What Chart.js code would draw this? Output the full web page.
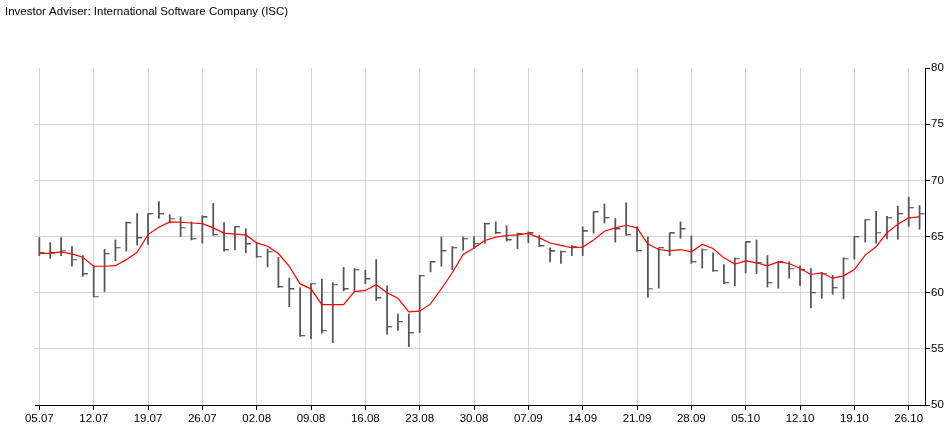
<!DOCTYPE html>
<html>
<head>
<meta charset="utf-8">
<script src="https://cdn.jsdelivr.net/npm/chart.js@4/dist/chart.umd.min.js"></script>
<style>
html,body{margin:0;padding:0;background:#fff;}
#wrap{width:951px;height:430px;position:relative;}
</style>
</head>
<body>
<div id="wrap"><canvas id="c" width="951" height="430"></canvas></div>
<script>
// Tick labels on the time axis (one every 5 trading days)
const tickLabels = ['05.07','12.07','19.07','26.07','02.08','09.08','16.08','23.08','30.08','07.09','14.09','21.09','28.09','05.10','12.10','19.10','26.10'];

// Daily high / low / close values (82 trading days)
const high = [64.9,64.45,64.9,64.1,63.3,62.4,63.85,64.7,66.3,67.05,
  67.05,68.1,66.95,66.75,66.3,66.85,67.95,66.25,65.9,65.7,
  64.45,63.9,63.15,61.3,60.45,60.8,61.2,60.9,62.25,62.15,
  62.0,62.95,60.6,58.1,58.1,61.55,62.75,64.95,64.1,64.95,
  65.0,66.2,66.3,65.95,65.3,65.4,65.1,64.0,63.7,64.2,
  65.85,67.2,67.9,66.6,68.0,65.85,64.95,64.0,65.3,66.3,
  65.05,63.9,63.55,62.5,63.1,64.5,64.7,63.3,62.75,62.75,
  62.4,62.15,61.8,61.55,63.1,65.0,66.5,67.25,66.8,67.7,
  68.5,67.75];
const low = [63.3,63.05,63.3,62.35,61.45,59.65,60.1,62.85,63.7,64.25,
  64.3,66.6,66.2,65.0,64.7,64.4,65.1,63.7,63.8,63.55,
  63.15,62.3,60.45,58.75,56.1,55.9,56.4,55.55,60.15,60.1,
  60.8,59.3,56.3,56.65,55.2,56.45,61.85,62.35,62.05,63.77,
  63.95,64.4,65.25,64.6,63.9,64.45,64.1,62.73,62.6,63.3,
  63.3,65.3,66.2,64.5,65.1,63.7,59.6,60.4,63.3,64.85,
  62.6,62.2,61.9,60.8,60.6,61.75,61.7,60.5,60.4,61.3,
  60.65,58.65,59.5,59.85,59.45,62.98,64.5,64.4,64.78,64.75,
  65.9,65.65];
const close = [63.55,63.5,63.75,62.95,61.65,59.65,63.45,64.0,66.2,64.85,
  67.0,67.0,66.6,65.8,64.8,66.7,65.15,63.8,65.85,64.3,
  63.2,63.65,60.5,60.3,56.15,60.8,56.6,60.7,60.3,62.05,
  61.2,59.5,56.95,57.4,56.4,61.5,62.7,63.7,64.0,64.8,
  64.35,66.1,65.3,64.67,65.22,65.27,64.14,63.67,63.64,64.08,
  65.45,67.15,66.65,65.65,65.15,63.72,60.37,63.99,65.27,65.65,
  62.74,63.84,61.94,60.88,63.04,64.47,62.66,60.88,62.7,62.15,
  62.0,59.99,61.7,60.43,63.03,64.95,66.5,65.35,66.67,67.0,
  67.55,67.03];
// Moving average (red line)
const ma = [63.5,63.5,63.63,63.45,63.15,62.35,62.35,62.4,62.94,63.6,
  65.17,65.82,66.3,66.27,66.2,66.15,65.77,65.3,65.22,65.14,
  64.43,64.13,63.48,62.35,60.78,60.34,58.94,58.94,58.94,60.1,
  60.2,60.7,60.0,59.5,58.3,58.35,59.0,60.35,61.77,63.4,
  63.97,64.65,64.95,65.09,65.15,65.28,64.88,64.42,64.21,64.0,
  64.06,64.68,65.47,65.77,66.0,65.77,64.32,63.84,63.72,63.84,
  63.64,64.29,63.93,63.1,62.54,62.83,62.66,62.39,62.74,62.6,
  62.15,61.62,61.77,61.29,61.5,62.06,63.34,64.08,65.33,66.1,
  66.66,66.75];
const yTicks = [50,55,60,65,70,75,80];

const FONT = "'Liberation Sans', Arial, sans-serif";
const BAR_COLOR = '#555555';

// close tick marker (drawn to the right of the bar)
const tickImg = document.createElement('canvas');
tickImg.width = 12; tickImg.height = 2;
(function(){ const g = tickImg.getContext('2d'); g.fillStyle = BAR_COLOR; g.fillRect(6,0,5,1); g.globalAlpha = 0.3; g.fillRect(6,1,5,1); })();

const barData = high.map((h,i)=>({x:i, y:[low[i], h]}));
const closeData = close.map((c,i)=>({x:i, y:c}));
const maData = ma.map((v,i)=>({x:i, y:v}));

new Chart(document.getElementById('c'), {
  type: 'bar',
  data: {
    datasets: [
      { type:'line', data: maData, borderColor:'#ff0000', borderWidth:1.2, pointRadius:0, tension:0, order:0, yAxisID:'y' },
      { type:'line', data: closeData, showLine:false, pointStyle: tickImg, pointRadius:6, order:1, yAxisID:'y' },
      { type:'bar', data: barData, backgroundColor: BAR_COLOR, borderWidth:0, barThickness:1.1, order:2, yAxisID:'y' }
    ]
  },
  options: {
    responsive:false,
    animation:false,
    devicePixelRatio:1,
    events:[],
    layout:{ padding:{ left:5, right:0, top:0, bottom:0 } },
    plugins:{
      legend:{ display:false },
      tooltip:{ enabled:false },
      title:{ display:true, text:'Investor Adviser: International Software Company (ISC)', align:'start',
        color:'#000', font:{ family:FONT, size:11.5, weight:'normal', lineHeight:1.2 },
        padding:{ top:5, bottom:49.2 } }
    },
    scales:{
      x:{ type:'linear', min:-0.4, max:81.5, offset:false,
        afterBuildTicks: s => { s.ticks = tickLabels.map((_,k)=>({value:k*5})); },
        afterFit: s => { s.height = 25; },
        ticks:{ callback: v => tickLabels[Math.round(v/5)], maxRotation:0, autoSkip:false, color:'#000',
          font:{ family:FONT, size:11.5 }, padding:2 },
        grid:{ offset:false, color:'#d3d3d3', tickColor:'#000', tickLength:5, lineWidth:1 },
        border:{ color:'#000', width:1 } },
      yl:{ position:'left', display:true, min:0, max:1,
        afterFit: s => { s.width = 30; },
        grid:{ display:false, drawTicks:false }, ticks:{ display:false }, border:{ display:false } },
      y:{ position:'right', min:50, max:80,
        afterBuildTicks: s => { s.ticks = yTicks.map(v=>({value:v})); },
        afterFit: s => { s.width = 26; },
        ticks:{ color:'#000', font:{ family:FONT, size:11.5 }, padding:1 },
        grid:{ color: c => (c.tick && c.tick.value === 80) ? 'rgba(0,0,0,0)' : '#d3d3d3', tickColor:'#000', tickLength:5 },
        border:{ color:'#000', width:1 } }
    }
  }
});
</script>
</body>
</html>
